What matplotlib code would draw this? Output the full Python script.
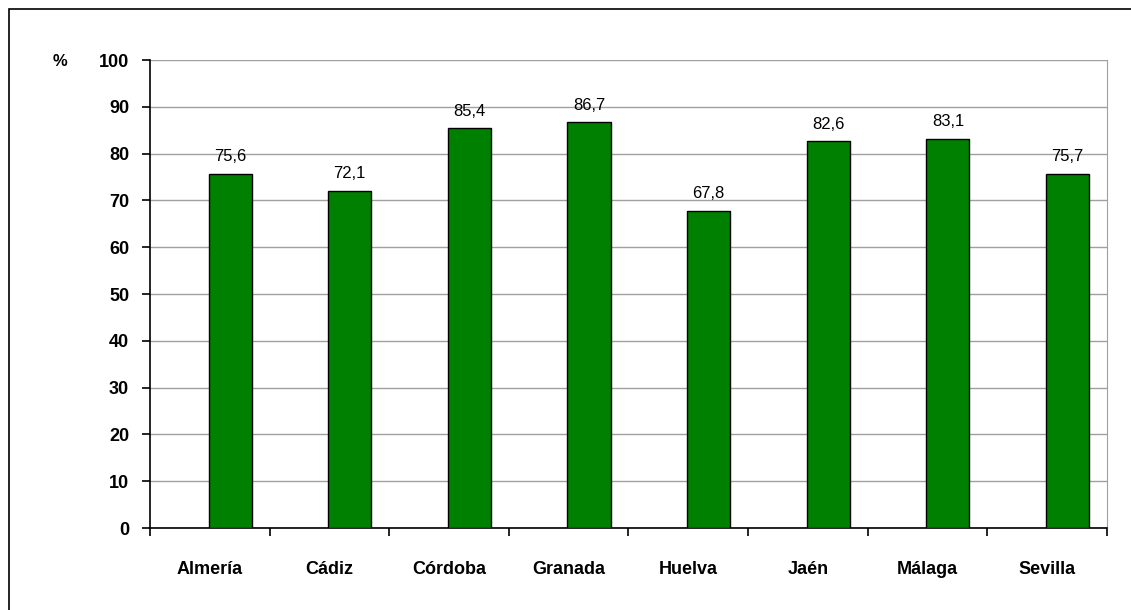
import numpy as np
import matplotlib.pyplot as plt
from matplotlib.patches import Rectangle

provincias = ['Almería', 'Cádiz', 'Córdoba', 'Granada', 'Huelva', 'Jaén', 'Málaga', 'Sevilla']
valores = [75.6, 72.1, 85.4, 86.7, 67.8, 82.6, 83.1, 75.7]
etiquetas = ['75,6', '72,1', '85,4', '86,7', '67,8', '82,6', '83,1', '75,7']

plt.rcParams['font.family'] = ['Liberation Sans', 'DejaVu Sans']

fig = plt.figure(figsize=(11.31, 6.10), dpi=100)
ax = fig.add_axes([0.1326, 0.1344, 0.8462, 0.7672])

# outer frame of the chart area
fig.patches.append(Rectangle((9 / 1131, -0.05), 1.2, 1 - 9 / 610 + 0.05,
                             transform=fig.transFigure, fill=False,
                             edgecolor='black', linewidth=1.2))

x = np.arange(len(provincias))
bars = ax.bar(x + 0.17, valores, width=0.36, color='#008000',
              edgecolor='black', linewidth=1, zorder=3)

for b, txt in zip(bars, etiquetas):
    ax.annotate(txt, (b.get_x() + b.get_width() / 2, b.get_height()),
                xytext=(0, 7), textcoords='offset points',
                ha='center', va='bottom', fontsize=12)

ax.set_xlim(-0.5, len(provincias) - 0.5)
ax.set_ylim(0, 100)
ax.set_yticks(np.arange(0, 101, 10))
ax.yaxis.grid(True, color='#a0a0a0', linewidth=1, zorder=0)

ax.set_xticks(x)
ax.set_xticklabels(provincias, fontweight='bold', fontsize=13)
ax.set_xticks(np.arange(-0.5, len(provincias)), minor=True)
ax.tick_params(axis='x', which='major', length=0, pad=24)
ax.tick_params(axis='x', which='minor', length=6, width=1.2, direction='out')
ax.tick_params(axis='y', length=6, width=1.2, pad=9)
for lab in ax.get_yticklabels():
    lab.set_fontweight('bold')
    lab.set_fontsize(13)

ax.spines['top'].set_visible(False)
ax.spines['right'].set_color('#a0a0a0')
ax.spines['left'].set_linewidth(1.2)
ax.spines['bottom'].set_linewidth(1.2)

fig.text(60 / 1131, 1 - 62 / 610, '%', fontsize=12, fontweight='bold',
         ha='center', va='center')

fig.savefig('out.png', dpi=100)
